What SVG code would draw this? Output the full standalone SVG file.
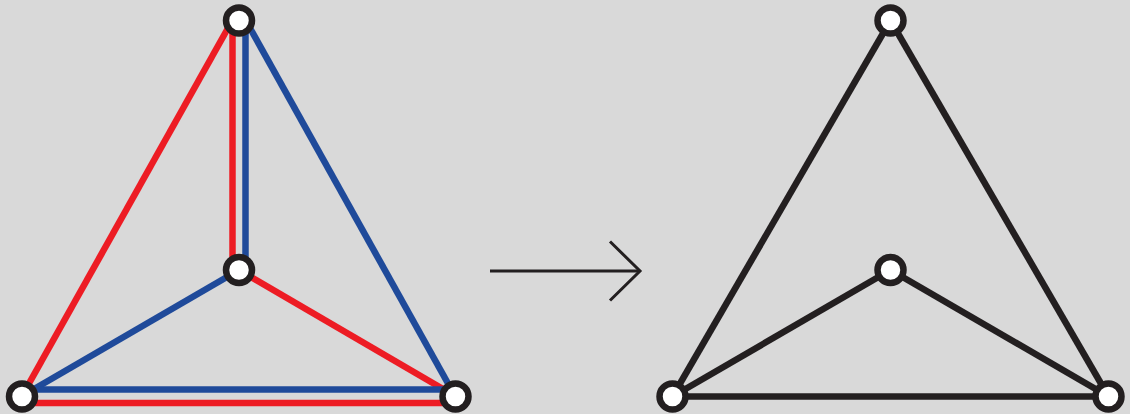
<svg xmlns="http://www.w3.org/2000/svg" width="1130" height="414" viewBox="0 0 1130 414">
<style>
.red{stroke:#ed1c24;stroke-width:6.5;fill:none}
.blue{stroke:#1f4a9a;stroke-width:6.5;fill:none}
.blk{stroke:#231f20;stroke-width:6.5;fill:none}
.arr{stroke:#231f20;stroke-width:3;fill:none}
.node{fill:#ffffff;stroke:#231f20;stroke-width:6.5}
</style>
<rect width="1130" height="414" fill="#d9d9d9"/>
<g id="connectors">
<line class="red" x1="232.5" y1="20" x2="22" y2="396"/>
<line class="red" x1="232.5" y1="20" x2="232.5" y2="270"/>
<line class="red" x1="239" y1="270" x2="455" y2="396"/>
<line class="red" x1="22" y1="403" x2="455" y2="403"/>
<line class="blue" x1="245.5" y1="20" x2="455" y2="396"/>
<line class="blue" x1="245.5" y1="20" x2="245.5" y2="270"/>
<line class="blue" x1="239" y1="270" x2="22" y2="396"/>
<line class="blue" x1="22" y1="389.5" x2="455" y2="389.5"/>
<line class="blk" x1="890.5" y1="20.5" x2="672.5" y2="396.5"/>
<line class="blk" x1="890.5" y1="20.5" x2="1108.5" y2="396.5"/>
<line class="blk" x1="890.5" y1="270" x2="672.5" y2="396.5"/>
<line class="blk" x1="890.5" y1="270" x2="1108.5" y2="396.5"/>
<line class="blk" x1="672.5" y1="396.5" x2="1108.5" y2="396.5"/>
<line class="arr" x1="490" y1="271" x2="640" y2="271"/>
<polyline class="arr" points="610,241.5 640,271 610,300.5"/>
</g>
<g id="L-top"><circle class="node" cx="239" cy="20.5" r="13"/></g>
<g id="L-mid"><circle class="node" cx="239" cy="270" r="13"/></g>
<g id="L-bl"><circle class="node" cx="22" cy="396.5" r="13"/></g>
<g id="L-br"><circle class="node" cx="455.5" cy="396.5" r="13"/></g>
<g id="R-top"><circle class="node" cx="890.5" cy="20.5" r="13"/></g>
<g id="R-mid"><circle class="node" cx="890.5" cy="270" r="13"/></g>
<g id="R-bl"><circle class="node" cx="672.5" cy="396.5" r="13"/></g>
<g id="R-br"><circle class="node" cx="1108.5" cy="396.5" r="13"/></g>
</svg>
